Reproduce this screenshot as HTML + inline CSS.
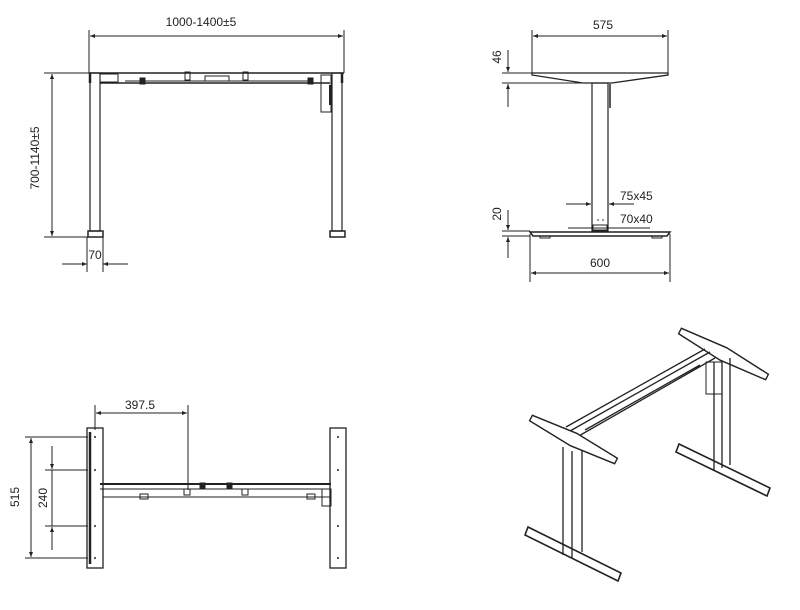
<!DOCTYPE html>
<html><head><meta charset="utf-8"><style>
html,body{margin:0;padding:0;background:#fff;}
svg{display:block;}
text{font-family:"Liberation Sans",sans-serif;font-size:12px;fill:#222;}
</style></head><body>
<svg width="800" height="610" viewBox="0 0 800 610" xmlns="http://www.w3.org/2000/svg">
<defs>
<marker id="a" viewBox="0 0 10 10" refX="10" refY="5" markerWidth="7" markerHeight="5" orient="auto-start-reverse"><path d="M0,1 L10,5 L0,9 z" fill="#222"/></marker>
</defs>
<g stroke="#222" fill="none" stroke-width="1">
<!-- FRONT VIEW -->
<line x1="89" y1="30" x2="89" y2="73"/><line x1="344" y1="30" x2="344" y2="73"/>
<line x1="90" y1="36" x2="343" y2="36" marker-start="url(#a)" marker-end="url(#a)"/>
<line x1="44" y1="73" x2="90" y2="73"/><line x1="44" y1="237" x2="90" y2="237"/>
<line x1="52" y1="74" x2="52" y2="236" marker-start="url(#a)" marker-end="url(#a)"/>
<line x1="89" y1="73" x2="344" y2="73" stroke-width="1.5"/>
<rect x="90" y="73" width="10" height="158" stroke-width="1.2"/>
<rect x="332" y="73" width="10" height="158" stroke-width="1.2"/>
<line x1="90" y1="73" x2="90" y2="83" stroke-width="2.5"/>
<line x1="342" y1="73" x2="342" y2="83" stroke-width="2.5"/>
<rect x="100" y="74" width="18" height="8"/>
<line x1="100" y1="83" x2="330" y2="83" stroke-width="1.5"/>
<line x1="125" y1="81" x2="310" y2="81"/>
<rect x="185" y="72" width="5" height="8"/><rect x="205" y="76" width="24" height="5"/><rect x="243" y="72" width="5" height="8"/>
<rect x="321" y="75" width="10" height="37"/>
<line x1="330" y1="85" x2="330" y2="105" stroke-width="2"/>
<rect x="140" y="78" width="5" height="6" fill="#222"/><rect x="308" y="78" width="5" height="6" fill="#222"/>
<rect x="88" y="231" width="15" height="6" stroke-width="1.5"/>
<rect x="330" y="231" width="15" height="6" stroke-width="1.5"/>
<line x1="87" y1="237" x2="87" y2="272"/><line x1="103" y1="237" x2="103" y2="272"/>
<line x1="62" y1="264" x2="87" y2="264" marker-end="url(#a)"/>
<line x1="128" y1="264" x2="103" y2="264" marker-end="url(#a)"/>

<!-- SIDE VIEW -->
<line x1="532" y1="30" x2="532" y2="73"/><line x1="668" y1="30" x2="668" y2="73"/>
<line x1="533" y1="36" x2="667" y2="36" marker-start="url(#a)" marker-end="url(#a)"/>
<path d="M532,73 L668,73 L668,75 L612,83 L583,83 L532,75 Z" stroke-width="1.3"/>
<rect x="592" y="83" width="16" height="148" stroke-width="1.2"/>
<line x1="610" y1="84" x2="610" y2="108" stroke-width="1.5"/>
<line x1="502" y1="73" x2="532" y2="73"/><line x1="502" y1="83" x2="583" y2="83"/>
<line x1="508" y1="50" x2="508" y2="72" marker-end="url(#a)"/>
<line x1="508" y1="107" x2="508" y2="84" marker-end="url(#a)"/>
<line x1="566" y1="204" x2="591" y2="204" marker-end="url(#a)"/>
<line x1="634" y1="204" x2="609" y2="204" marker-end="url(#a)"/>
<line x1="568" y1="228" x2="650" y2="228"/>
<rect x="593" y="225" width="14" height="5"/>
<path d="M530,232 L670,232 L667,236 L533,236 Z" stroke-width="1.5"/>
<rect x="540" y="236" width="10" height="2"/><rect x="652" y="236" width="10" height="2"/>
<line x1="502" y1="231" x2="530" y2="231"/><line x1="502" y1="236" x2="530" y2="236"/>
<line x1="508" y1="210" x2="508" y2="230" marker-end="url(#a)"/>
<line x1="508" y1="258" x2="508" y2="237" marker-end="url(#a)"/>
<line x1="530" y1="234" x2="530" y2="282"/><line x1="670" y1="234" x2="670" y2="282"/>
<line x1="531" y1="273" x2="669" y2="273" marker-start="url(#a)" marker-end="url(#a)"/>

<!-- TOP VIEW -->
<line x1="95" y1="405" x2="95" y2="430"/><line x1="188" y1="405" x2="188" y2="490"/>
<line x1="96" y1="413" x2="187" y2="413" marker-start="url(#a)" marker-end="url(#a)"/>
<rect x="87" y="428" width="16" height="140" stroke-width="1.3"/>
<line x1="90" y1="432" x2="90" y2="564" stroke-width="2.5"/>
<rect x="330" y="428" width="16" height="140" stroke-width="1.3"/>
<line x1="100" y1="484" x2="331" y2="484" stroke-width="2"/>
<line x1="100" y1="489" x2="331" y2="489"/>
<line x1="103" y1="497" x2="330" y2="497"/>
<rect x="184" y="489" width="6" height="6"/><rect x="242" y="489" width="6" height="6"/>
<rect x="140" y="494" width="8" height="5"/><rect x="307" y="494" width="8" height="5"/>
<rect x="200" y="483" width="5" height="5" fill="#222"/><rect x="227" y="483" width="5" height="5" fill="#222"/>
<rect x="322" y="489" width="9" height="17"/>
<line x1="25" y1="437" x2="88" y2="437"/><line x1="25" y1="558" x2="88" y2="558"/>
<line x1="45" y1="470" x2="88" y2="470"/><line x1="45" y1="526" x2="88" y2="526"/>
<line x1="31" y1="438" x2="31" y2="557" marker-start="url(#a)" marker-end="url(#a)"/>
<line x1="52" y1="446" x2="52" y2="469" marker-end="url(#a)"/>
<line x1="52" y1="550" x2="52" y2="527" marker-end="url(#a)"/>
<line x1="52" y1="470" x2="52" y2="526"/>

<!-- ISO VIEW -->
<!-- beam -->
<path d="M710,352 L570,431 M715,358 L577,437 M705,349 L566,427 M700,365 L585,430" stroke-width="1.3"/>
<!-- right leg -->
<rect x="706" y="362" width="16" height="32"/>
<path d="M714,362 L714,470 M722,362 L722,468 M730,358 L730,465" stroke-width="1.3"/>
<!-- right top plate -->
<polygon points="681.4,328.3 726.8,347.8 768.4,374.3 765.6,379.7 720.2,360.2 678.6,333.7" stroke-width="1.4"/>
<!-- right foot -->
<path d="M679,444 L770,488 L767,496 L676,452 Z" stroke-width="1.6"/>
<!-- left leg -->
<path d="M563,447 L563,555 M572,451 L572,558 M582,451 L582,552" stroke-width="1.3"/>
<!-- left top plate -->
<polygon points="532.4,415.3 576.6,433.3 617.4,458.3 614.6,463.7 570.4,445.7 529.6,420.7" stroke-width="1.4" fill="#fff"/>
<!-- left foot -->
<path d="M528,527 L621,573 L618,581 L525,535 Z" stroke-width="1.6"/>
</g>
<g fill="#222">
<circle cx="95" cy="437" r="1"/><circle cx="95" cy="470" r="1"/><circle cx="95" cy="526" r="1"/><circle cx="95" cy="558" r="1"/>
<circle cx="338" cy="437" r="1"/><circle cx="338" cy="470" r="1"/><circle cx="338" cy="526" r="1"/><circle cx="338" cy="558" r="1"/>
<circle cx="598" cy="220" r="0.8"/><circle cx="603" cy="220" r="0.8"/>
</g>
<text x="201" y="26" text-anchor="middle">1000-1400±5</text>
<text x="95" y="259" text-anchor="middle">70</text>
<text transform="translate(39,158) rotate(-90)" text-anchor="middle">700-1140±5</text>
<text x="603" y="29" text-anchor="middle">575</text>
<text transform="translate(501,57) rotate(-90)" text-anchor="middle">46</text>
<text x="620" y="200">75x45</text>
<text x="620" y="223">70x40</text>
<text transform="translate(501,214) rotate(-90)" text-anchor="middle">20</text>
<text x="600" y="267" text-anchor="middle">600</text>
<text x="140" y="409" text-anchor="middle">397.5</text>
<text transform="translate(19,497) rotate(-90)" text-anchor="middle">515</text>
<text transform="translate(47,498) rotate(-90)" text-anchor="middle">240</text>
</svg>
</body></html>
